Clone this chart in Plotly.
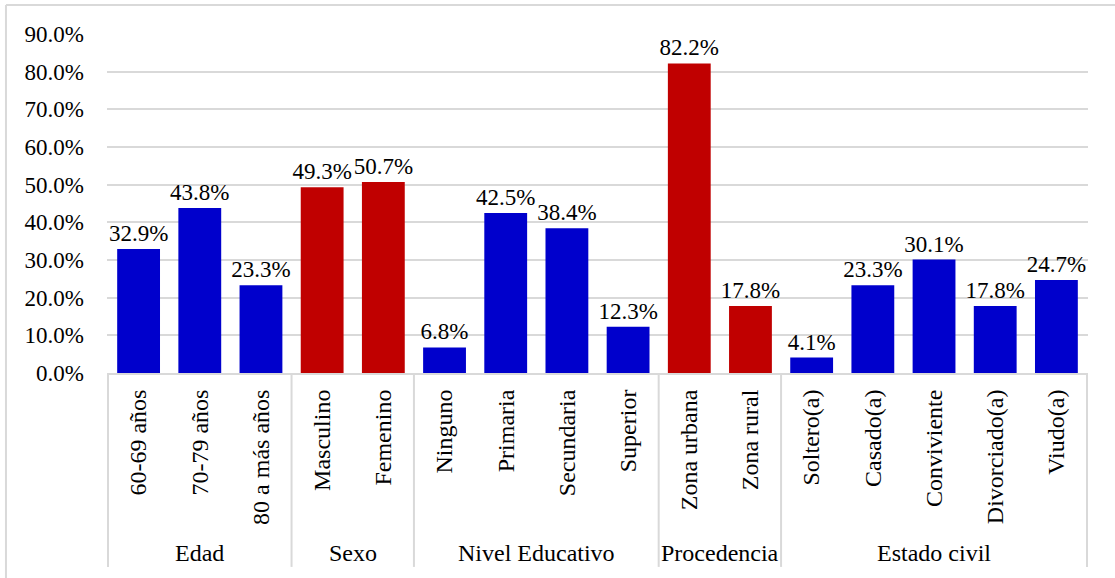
import plotly.graph_objects as go

# Categories, grouped by variable
categorias = ["60-69 años", "70-79 años", "80 a más años",
              "Masculino", "Femenino",
              "Ninguno", "Primaria", "Secundaria", "Superior",
              "Zona urbana", "Zona rural",
              "Soltero(a)", "Casado(a)", "Conviviente", "Divorciado(a)", "Viudo(a)"]
porcentajes = [32.9, 43.8, 23.3,
               49.3, 50.7,
               6.8, 42.5, 38.4, 12.3,
               82.2, 17.8,
               4.1, 23.3, 30.1, 17.8, 24.7]
grupos = ["Edad", "Sexo", "Nivel Educativo", "Procedencia", "Estado civil"]
tamanos_grupo = [3, 2, 4, 2, 5]
colores_grupo = ["#0000CC", "#C00000", "#0000CC", "#C00000", "#0000CC"]

colores = []
for c, n in zip(colores_grupo, tamanos_grupo):
    colores += [c] * n

FUENTE = "Liberation Serif"
GRIS = "#D9D9D9"

fig = go.Figure(go.Bar(
    x=categorias,
    y=porcentajes,
    marker=dict(color=colores, line=dict(width=0)),
    text=[f"{v:.1f}%" for v in porcentajes],
    textposition="outside",
    constraintext="none",
    textfont=dict(family=FUENTE, size=23),
    cliponaxis=False,
))

# Group separators and group names below the category labels
shapes = []
annotations = []
inicio = 0
for g, n in zip(grupos, tamanos_grupo):
    shapes.append(dict(type="line", xref="x", yref="paper",
                       x0=inicio - 0.5, x1=inicio - 0.5, y0=0, y1=-0.572,
                       line=dict(color=GRIS, width=2)))
    annotations.append(dict(xref="x", yref="paper", x=inicio + (n - 1) / 2,
                            y=-0.531, text=g, showarrow=False,
                            yanchor="middle", xanchor="center",
                            font=dict(family=FUENTE, size=24)))
    inicio += n
shapes.append(dict(type="line", xref="x", yref="paper",
                   x0=inicio - 0.5, x1=inicio - 0.5, y0=0, y1=-0.572,
                   line=dict(color=GRIS, width=2)))

# Chart frame (left and top edges)
shapes.append(dict(type="line", xref="paper", yref="paper",
                   x0=-0.103, x1=-0.103, y0=1.0856, y1=-0.7,
                   line=dict(color=GRIS, width=2)))
shapes.append(dict(type="line", xref="paper", yref="paper",
                   x0=-0.103, x1=1.04, y0=1.0856, y1=1.0856,
                   line=dict(color=GRIS, width=2)))

fig.update_layout(
    width=1115, height=578,
    margin=dict(l=107, r=27, t=34, b=205),
    paper_bgcolor="white", plot_bgcolor="white",
    bargap=0.3,
    showlegend=False,
    shapes=shapes,
    annotations=annotations,
    font=dict(family=FUENTE, size=23, color="#000000"),
)
fig.update_xaxes(
    type="category", tickangle=-90, ticks="",
    showline=True, linecolor=GRIS, linewidth=2,
    tickfont=dict(family=FUENTE, size=24),
    ticklabelstandoff=5,
)
fig.update_yaxes(
    range=[0, 90], dtick=10,
    tickformat=".1f", ticksuffix="%",
    showgrid=True, gridcolor=GRIS, gridwidth=2,
    zeroline=False, ticks="",
    tickfont=dict(family=FUENTE, size=23),
    ticklabelstandoff=22,
)

fig.write_html("out.html")
